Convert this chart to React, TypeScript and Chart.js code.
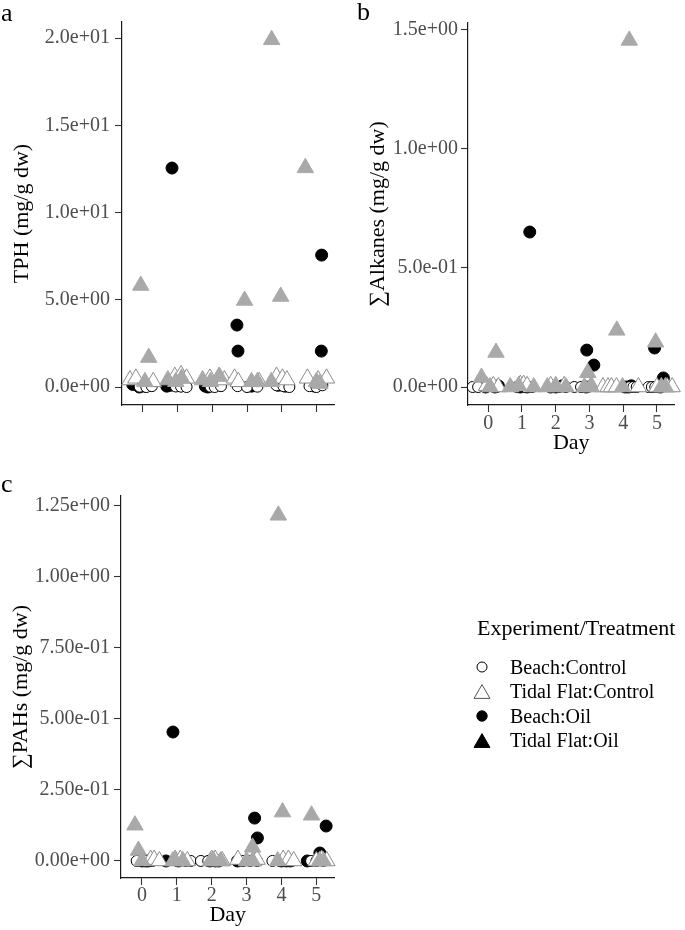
import React, { useEffect, useRef } from 'react';
import { Chart, registerables } from 'chart.js';

Chart.register(...registerables);

const FONT = "'Liberation Serif', 'Times New Roman', serif";

// ---------- tick values ----------
const dayTicks = [0, 1, 2, 3, 4, 5];
const tphTicks = [0, 5, 10, 15, 20];
const alkTicks = [0, 0.5, 1.0, 1.5];
const pahTicks = [0, 0.25, 0.5, 0.75, 1.0, 1.25];

// ---------- groups ----------
const groupNames = ['Beach:Control', 'Tidal Flat:Control', 'Beach:Oil', 'Tidal Flat:Oil'];
const legendTitle = 'Experiment/Treatment';

// ---------- TPH (mg/g dw) : jittered day, value ----------
const tphBeachControlDay = [-0.09, 0.1, 0.26, 0.95, 1.1, 1.26, 1.95, 2.07, 2.25, 2.73, 3.0, 3.3, 3.85, 4.05, 4.22, 4.8, 5.0, 5.17];
const tphBeachControl = [0.02, 0.0, 0.05, 0.03, 0.02, 0.0, 0.02, 0.0, 0.05, 0.05, 0.0, 0.02, 0.1, 0.05, 0.0, 0.05, 0.0, 0.1];
const tphTidalControlDay = [-0.37, -0.2, 0.3, 0.92, 1.1, 1.26, 1.93, 2.2, 2.35, 2.64, 2.75, 3.35, 3.85, 4.02, 4.15, 4.74, 5.05, 5.29];
const tphTidalControl = [0.4, 0.5, 0.3, 0.6, 0.7, 0.5, 0.5, 0.6, 0.4, 0.5, 0.3, 0.3, 0.6, 0.5, 0.4, 0.5, 0.4, 0.5];
const tphBeachOilDay = [-0.29, -0.1, 0.05, 0.84, 0.69, 0.8, 1.87, 2.0, 1.8, 2.71, 2.74, 3.13, 3.99, 3.9, 4.1, 5.15, 5.14, 4.95];
const tphBeachOil = [0.15, 0.0, 0.05, 12.55, 0.05, 0.1, 0.0, 0.1, 0.05, 3.55, 2.06, 0.05, 0.5, 0.1, 0.05, 7.56, 2.06, 0.05];
const tphTidalOilDay = [-0.06, 0.17, 0.06, 0.72, 1.12, 0.95, 1.72, 2.2, 1.95, 2.93, 3.13, 3.3, 3.71, 3.97, 3.7, 4.68, 5.0, 5.1];
const tphTidalOil = [5.82, 1.69, 0.3, 0.4, 0.5, 0.3, 0.4, 0.6, 0.3, 4.96, 0.3, 0.3, 19.9, 5.19, 0.3, 12.56, 0.3, 0.2];

// ---------- ∑Alkanes (mg/g dw) ----------
const alkBeachControlDay = [-0.46, -0.3, 0.25, 0.85, 1.1, 1.3, 1.9, 2.1, 2.3, 2.55, 2.75, 2.95, 4.2, 4.3, 4.4, 4.75, 4.85, 4.95];
const alkBeachControl = [0, 0, 0, 0, 0, 0, 0, 0, 0, 0, 0, 0, 0, 0, 0, 0, 0, 0];
const alkTidalControlDay = [-0.05, 0.15, 0.3, 0.95, 1.05, 1.15, 1.85, 2.0, 2.25, 3.05, 3.4, 3.55, 3.65, 3.8, 4.45, 5.0, 5.3, 5.45];
const alkTidalControl = [0.005, 0.005, 0, 0.01, 0.01, 0.005, 0.005, 0, 0.005, 0.005, 0, 0, 0, 0, 0, 0, 0, 0];
const alkBeachOilDay = [-0.08, 0.3, 0.2, 1.23, 0.95, 1.15, 2.0, 2.2, 1.85, 2.92, 3.13, 2.9, 4.24, 4.15, 4.05, 4.93, 5.19, 5.1];
const alkBeachOil = [0, 0.005, 0, 0.651, 0, 0, 0, 0.005, 0, 0.155, 0.092, 0, 0.005, 0, 0, 0.164, 0.038, 0];
const alkTidalOilDay = [-0.2, 0.23, 0.05, 0.65, 0.9, 1.35, 1.75, 2.0, 2.3, 2.95, 2.85, 3.05, 4.18, 3.81, 3.98, 4.96, 5.13, 5.25];
const alkTidalOil = [0.04, 0.145, 0, 0, 0.005, 0, 0, 0.005, 0, 0.06, 0, 0, 1.456, 0.238, 0, 0.188, 0, 0];

// ---------- ∑PAHs (mg/g dw) ----------
const pahBeachControlDay = [-0.15, 0.1, 0.3, 1.0, 1.25, 1.4, 1.69, 1.9, 2.15, 2.9, 3.1, 3.3, 3.74, 3.95, 4.3, 4.85, 5.0, 5.2];
const pahBeachControl = [0, 0, 0, 0, 0, 0, 0, 0, 0, 0, 0, 0, 0, 0, 0, 0, 0, 0];
const pahTidalControlDay = [0.25, 0.35, 0.5, 0.95, 1.1, 1.3, 2.0, 2.1, 2.3, 2.75, 3.2, 3.3, 4.05, 4.2, 4.35, 5.0, 5.15, 5.3];
const pahTidalControl = [0.005, 0.005, 0, 0.005, 0.005, 0, 0.005, 0.005, 0, 0.005, 0, 0.005, 0.005, 0.005, 0, 0, 0.005, 0];
const pahBeachOilDay = [0.0, 0.17, 0.1, 0.89, 0.69, 1.05, 2.1, 1.95, 2.2, 3.23, 3.31, 2.74, 4.14, 4.25, 4.0, 5.28, 5.1, 4.74];
const pahBeachOil = [0, 0, 0, 0.454, 0, 0, 0, 0, 0, 0.151, 0.081, 0, 0, 0, 0, 0.123, 0.028, 0];
const pahTidalOilDay = [-0.2, -0.1, 0.0, 0.89, 1.17, 0.95, 1.97, 2.26, 2.05, 3.17, 3.17, 3.0, 3.91, 4.03, 3.89, 4.86, 5.09, 5.2];
const pahTidalOil = [0.126, 0.037, 0, 0, 0, 0, 0, 0, 0, 0.048, 0, 0, 1.217, 0.172, 0, 0.161, 0, 0];

// ---------- styles ----------
const groupStyles = [
  { pointStyle: 'circle', radius: 5.5, fill: '#ffffff', stroke: '#000000', order: 2, legendFill: '#ffffff', legendStroke: '#000000', legendRadius: 5 },
  { pointStyle: 'triangle', radius: 9.5, fill: '#ffffff', stroke: '#8c8c8c', order: 1, legendFill: '#ffffff', legendStroke: '#555555', legendRadius: 9.2 },
  { pointStyle: 'circle', radius: 6, fill: '#000000', stroke: '#000000', order: 3, legendFill: '#000000', legendStroke: '#000000', legendRadius: 5.2 },
  { pointStyle: 'triangle', radius: 9.5, fill: '#a9a9a9', stroke: '#a9a9a9', order: 0, legendFill: '#000000', legendStroke: '#000000', legendRadius: 9.2 },
];

function sci(v: number, d: number): string {
  if (v === 0) return (0).toFixed(d) + 'e+00';
  const s = v.toExponential(d);
  const [m, e] = s.split('e');
  const sign = e[0] === '-' ? '-' : '+';
  const digits = e.replace(/^[+-]/, '').padStart(2, '0');
  return m + 'e' + sign + digits;
}

function zip(xs: number[], ys: number[]) {
  return xs.map((x, i) => ({ x, y: ys[i] }));
}

const panelLabelPlugin = {
  id: 'panelLabel',
  afterDraw(chart: any, _args: any, opts: any) {
    if (!opts || !opts.text) return;
    const ctx = chart.ctx;
    ctx.save();
    ctx.font = `26px ${FONT}`;
    ctx.fillStyle = '#000';
    ctx.textAlign = 'left';
    ctx.textBaseline = 'alphabetic';
    ctx.fillText(opts.text, opts.x, opts.y);
    ctx.restore();
  },
};

function drawMarker(ctx: CanvasRenderingContext2D, style: string, r: number, x: number, y: number, fill: string, stroke: string) {
  ctx.beginPath();
  if (style === 'circle') {
    ctx.arc(x, y, r, 0, Math.PI * 2);
  } else {
    for (let k = 0; k < 3; k++) {
      const a = (k * 2 * Math.PI) / 3;
      const px = x + Math.sin(a) * r;
      const py = y - Math.cos(a) * r;
      if (k === 0) ctx.moveTo(px, py);
      else ctx.lineTo(px, py);
    }
  }
  ctx.closePath();
  ctx.fillStyle = fill;
  ctx.fill();
  ctx.lineWidth = 1;
  ctx.strokeStyle = stroke;
  ctx.stroke();
}

const keyPlugin = {
  id: 'seriesKey',
  afterDraw(chart: any, _args: any, opts: any) {
    if (!opts || !opts.enabled) return;
    const ctx = chart.ctx as CanvasRenderingContext2D;
    ctx.save();
    ctx.fillStyle = '#000';
    ctx.textAlign = 'left';
    ctx.textBaseline = 'alphabetic';
    ctx.font = `22px ${FONT}`;
    ctx.fillText(opts.title, 17, 35);
    ctx.font = `20px ${FONT}`;
    chart.data.datasets.forEach((ds: any, i: number) => {
      const st = groupStyles[i];
      const rowY = 67 + i * 24.5;
      const cy = st.pointStyle === 'triangle' ? rowY + st.legendRadius / 4 : rowY;
      drawMarker(ctx, st.pointStyle, st.legendRadius, 22, cy, st.legendFill, st.legendStroke);
      ctx.fillStyle = '#000';
      ctx.fillText(ds.label, 50, rowY + 6.5);
    });
    ctx.restore();
  },
};

Chart.register(panelLabelPlugin, keyPlugin);

type PanelSpec = {
  left: number; top: number; width: number; height: number;
  padTop: number; padRight: number; yWidth: number; xHeight: number;
  yMin: number; yMax: number; yTicks: number[]; yDec: number; yTickPad: number;
  yTitle: string; yTitlePad: number;
  showX: boolean; xTickPad: number; xTitlePad: number;
  label: { text: string; x: number; y: number };
  series: { x: number[]; y: number[] }[];
};

function buildConfig(p: PanelSpec): any {
  const datasets = p.series.map((s, i) => {
    const st = groupStyles[i];
    return {
      label: groupNames[i],
      data: zip(s.x, s.y),
      pointStyle: st.pointStyle,
      pointRadius: st.radius,
      pointHoverRadius: st.radius,
      pointBackgroundColor: st.fill,
      pointBorderColor: st.stroke,
      pointBorderWidth: 1,
      showLine: false,
      clip: false,
      order: st.order,
    };
  });
  return {
    type: 'scatter',
    data: { datasets },
    options: {
      animation: false,
      responsive: false,
      devicePixelRatio: 1,
      events: [],
      layout: { padding: { left: 0, top: p.padTop, right: p.padRight, bottom: 0 } },
      plugins: {
        legend: { display: false },
        tooltip: { enabled: false },
        panelLabel: p.label,
      },
      scales: {
        x: {
          type: 'linear',
          position: 'bottom',
          min: -0.6,
          max: 5.52,
          afterBuildTicks: (s: any) => { s.ticks = dayTicks.map((v) => ({ value: v })); },
          afterFit: (s: any) => { s.height = p.xHeight; },
          grid: { display: true, drawOnChartArea: false, drawTicks: true, tickLength: 7, tickColor: '#333333', tickWidth: 1.1 },
          border: { display: true, color: '#1a1a1a', width: 1.2 },
          ticks: {
            display: p.showX, autoSkip: false, maxRotation: 0, padding: p.xTickPad,
            color: '#4d4d4d', font: { family: FONT, size: 20 },
            callback: (v: any) => String(v),
          },
          title: {
            display: p.showX, text: 'Day', color: '#000000',
            font: { family: FONT, size: 22 }, padding: { top: 0, bottom: p.xTitlePad },
          },
        },
        y: {
          type: 'linear',
          position: 'left',
          min: p.yMin,
          max: p.yMax,
          afterBuildTicks: (s: any) => { s.ticks = p.yTicks.map((v) => ({ value: v })); },
          afterFit: (s: any) => { s.width = p.yWidth; },
          grid: { display: true, drawOnChartArea: false, drawTicks: true, tickLength: 7, tickColor: '#333333', tickWidth: 1.1 },
          border: { display: true, color: '#1a1a1a', width: 1.2 },
          ticks: {
            autoSkip: false, padding: p.yTickPad,
            color: '#4d4d4d', font: { family: FONT, size: 20 },
            callback: (v: any) => sci(Number(v), p.yDec),
          },
          title: {
            display: true, text: p.yTitle, color: '#000000',
            font: { family: FONT, size: 22 }, padding: { top: p.yTitlePad, bottom: 0 },
          },
        },
      },
    },
  };
}

const panelA: PanelSpec = {
  left: 0, top: 0, width: 345, height: 460,
  padTop: 22, padRight: 10, yWidth: 122, xHeight: 55,
  yMin: -1.03, yMax: 20.92, yTicks: tphTicks, yDec: 1, yTickPad: 5,
  yTitle: 'TPH (mg/g dw)', yTitlePad: 8.8,
  showX: false, xTickPad: 0, xTitlePad: 4,
  label: { text: 'a', x: 1, y: 20.5 },
  series: [
    { x: tphBeachControlDay, y: tphBeachControl },
    { x: tphTidalControlDay, y: tphTidalControl },
    { x: tphBeachOilDay, y: tphBeachOil },
    { x: tphTidalOilDay, y: tphTidalOil },
  ],
};

const panelB: PanelSpec = {
  left: 345, top: 0, width: 340, height: 460,
  padTop: 23, padRight: 2, yWidth: 123, xHeight: 55,
  yMin: -0.0756, yMax: 1.529, yTicks: alkTicks, yDec: 1, yTickPad: 3,
  yTitle: '\u2211Alkanes (mg/g dw)', yTitlePad: 19.8,
  showX: true, xTickPad: 0, xTitlePad: 4,
  label: { text: 'b', x: 12, y: 20 },
  series: [
    { x: alkBeachControlDay, y: alkBeachControl },
    { x: alkTidalControlDay, y: alkTidalControl },
    { x: alkBeachOilDay, y: alkBeachOil },
    { x: alkTidalOilDay, y: alkTidalOil },
  ],
};

const panelC: PanelSpec = {
  left: 0, top: 460, width: 345, height: 470,
  padTop: 36, padRight: 10, yWidth: 121, xHeight: 52,
  yMin: -0.06, yMax: 1.285, yTicks: pahTicks, yDec: 2, yTickPad: 4,
  yTitle: '\u2211PAHs (mg/g dw)', yTitlePad: 7.8,
  showX: true, xTickPad: -1, xTitlePad: 1.5,
  label: { text: 'c', x: 1, y: 32 },
  series: [
    { x: pahBeachControlDay, y: pahBeachControl },
    { x: pahTidalControlDay, y: pahTidalControl },
    { x: pahBeachOilDay, y: pahBeachOil },
    { x: pahTidalOilDay, y: pahTidalOil },
  ],
};

function Panel({ spec }: { spec: PanelSpec }) {
  const ref = useRef<HTMLCanvasElement>(null);
  useEffect(() => {
    const chart = new Chart(ref.current as HTMLCanvasElement, buildConfig(spec));
    return () => chart.destroy();
  }, []);
  return (
    <canvas
      ref={ref}
      width={spec.width}
      height={spec.height}
      style={{ position: 'absolute', left: spec.left, top: spec.top, width: spec.width, height: spec.height }}
    />
  );
}

function KeyPanel() {
  const ref = useRef<HTMLCanvasElement>(null);
  useEffect(() => {
    const chart = new Chart(ref.current as HTMLCanvasElement, {
      type: 'scatter',
      data: { datasets: groupNames.map((n) => ({ label: n, data: [] })) },
      options: {
        animation: false,
        responsive: false,
        devicePixelRatio: 1,
        events: [],
        plugins: {
          legend: { display: false },
          tooltip: { enabled: false },
          seriesKey: { enabled: true, title: legendTitle },
        } as any,
        scales: { x: { display: false }, y: { display: false } },
      },
    } as any);
    return () => chart.destroy();
  }, []);
  return (
    <canvas
      ref={ref}
      width={225}
      height={160}
      style={{ position: 'absolute', left: 460, top: 600, width: 225, height: 160 }}
    />
  );
}

export default function App() {
  return (
    <div style={{ position: 'absolute', left: 0, top: 0, width: 685, height: 930, background: '#ffffff', overflow: 'hidden' }}>
      <Panel spec={panelA} />
      <Panel spec={panelB} />
      <Panel spec={panelC} />
      <KeyPanel />
    </div>
  );
}
